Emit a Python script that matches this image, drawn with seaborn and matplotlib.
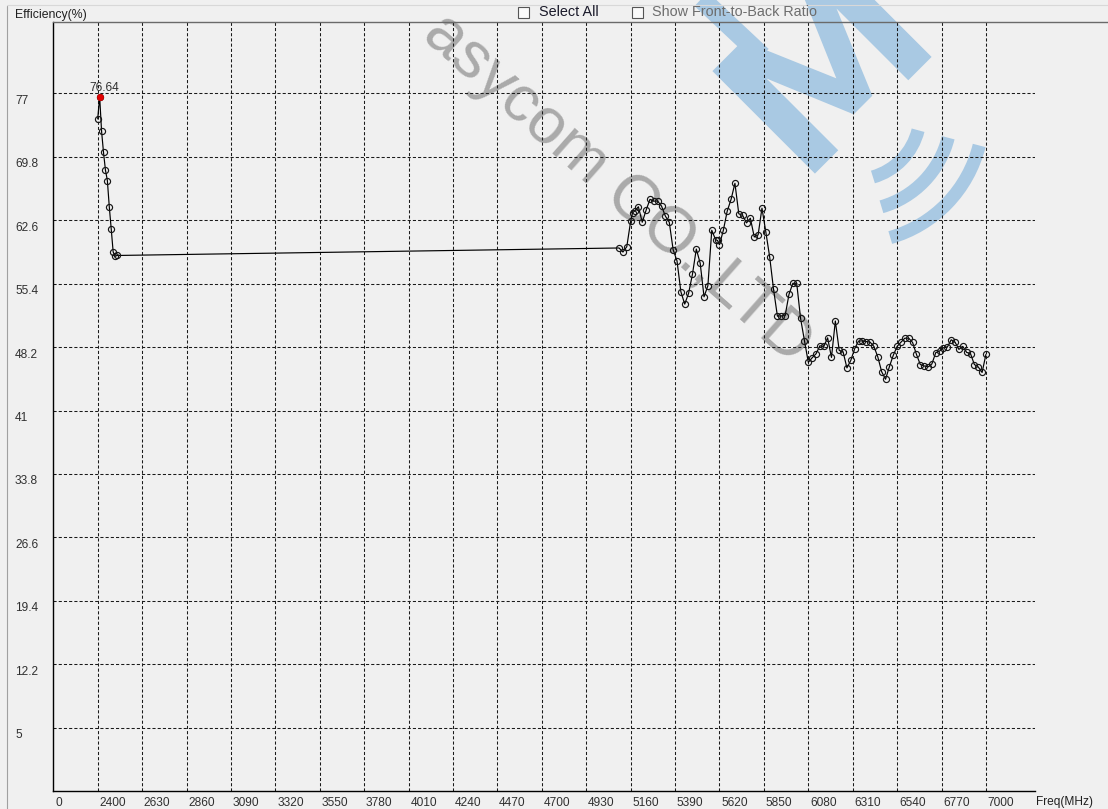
import matplotlib.pyplot as plt
import matplotlib.patches as mpatches
import matplotlib.transforms as mtrans
from matplotlib.lines import Line2D
import numpy as np
import pandas as pd
import seaborn as sns

W, H = 1108, 809

# 2.4 GHz band
freq_24 = [2400, 2410, 2420, 2430, 2440, 2450, 2460, 2470, 2480, 2490, 2500]
eff_24 = [74.1, 76.64, 72.7, 70.3, 68.3, 67.1, 64.1, 61.6, 59.0, 58.5, 58.6]

# 5 GHz band and above
freq_5g = [5100, 5120, 5140, 5160, 5170, 5180, 5200, 5220, 5240, 5260,
           5280, 5300, 5320, 5340, 5360, 5380, 5400, 5420, 5440, 5460,
           5480, 5500, 5520, 5540, 5560, 5580, 5600, 5610, 5620, 5640,
           5660, 5680, 5700, 5720, 5740, 5760, 5780, 5800, 5820, 5840,
           5860, 5880, 5900, 5920, 5940, 5960, 5980, 6000, 6020, 6040,
           6060, 6080, 6100, 6120, 6140, 6160, 6180, 6200, 6220, 6240,
           6260, 6280, 6300, 6320, 6340, 6360, 6380, 6400, 6420, 6440,
           6460, 6480, 6500, 6520, 6540, 6560, 6580, 6600, 6620, 6640,
           6660, 6680, 6700, 6720, 6740, 6760, 6780, 6800, 6820, 6840,
           6860, 6880, 6900, 6920, 6940, 6960, 6980, 7000]
eff_5g = [59.45, 58.99, 59.6, 62.49, 63.45, 63.63, 64.13, 62.37, 63.74, 64.97,
          64.77, 64.77, 64.2, 63.06, 62.37, 59.25, 57.99, 54.49, 53.08, 54.3,
          56.47, 59.33, 57.73, 53.91, 55.17, 61.46, 60.39, 60.3, 59.82, 61.46,
          63.63, 64.97, 66.79, 63.33, 63.14, 62.3, 62.83, 60.7, 60.93, 63.97,
          61.27, 58.42, 54.76, 51.71, 51.74, 51.78, 54.19, 55.44, 55.44, 51.45,
          48.94, 46.47, 46.99, 47.44, 48.35, 48.27, 49.25, 47.03, 51.16, 47.82,
          47.67, 45.84, 46.69, 48.01, 48.88, 48.91, 48.83, 48.76, 48.27, 47.08,
          45.4, 44.55, 45.98, 47.27, 48.28, 48.76, 49.21, 49.21, 48.73, 47.38,
          46.22, 46.06, 45.95, 46.29, 47.57, 47.75, 48.13, 48.2, 49.03, 48.76,
          47.94, 48.28, 47.6, 47.46, 46.22, 45.95, 45.32, 47.38]

x_ticks = [2170] + list(range(2400, 7001, 230))
x_labels = ["0"] + [str(v) for v in range(2400, 7001, 230)]
y_ticks = [5, 12.2, 19.4, 26.6, 33.8, 41, 48.2, 55.4, 62.6, 69.8, 77]
y_labels = ["5", "12.2", "19.4", "26.6", "33.8", "41", "48.2", "55.4", "62.6", "69.8", "77"]

df = pd.DataFrame({"freq": freq_24 + freq_5g, "eff": eff_24 + eff_5g})
peak = df.loc[df["eff"].idxmax()]

sns.set_style("white")
plt.rcParams["font.family"] = ["Liberation Sans", "DejaVu Sans"]
BG = "#f0f0f0"
BLUE = "#a9c9e3"


def fx(x):
    return x / W


def fy(y):
    return 1 - y / H


fig = plt.figure(figsize=(W / 100, H / 100), dpi=100, facecolor=BG)
ax = fig.add_axes([fx(53.3), fy(790.7), fx(1035) - fx(53.3), fy(22) - fy(790.7)])
ax.patch.set_alpha(0)  # let the watermark show through, grid and data stay on top
ident = mtrans.IdentityTransform()

# watermark text
fig.text(fx(617), fy(189), "asycom CO.,LTD", rotation=-41.5, rotation_mode="anchor",
         ha="center", va="center", fontsize=47, color="#aaaaaa", zorder=-1)

# blue logo drawn as shapes
m_outline = np.array([(0, 0), (0, 1), (0.26, 1), (0.5, 0.36), (0.74, 1), (1, 1), (1, 0),
                      (0.8, 0), (0.8, 0.7), (0.58, 0.1), (0.42, 0.1), (0.2, 0.7), (0.2, 0)])
m_outline = (m_outline - 0.5) * [165, 145]
ang = np.deg2rad(45)
rot = np.array([[np.cos(ang), -np.sin(ang)], [np.sin(ang), np.cos(ang)]])
m_pts = m_outline @ rot.T + [822, H - 64]
fig.add_artist(mpatches.Polygon(m_pts, closed=True, transform=ident, facecolor=BLUE,
                                edgecolor="none", zorder=-1))
fig.add_artist(Line2D([698, 762], [H + 4, H - 56], transform=ident, color=BLUE, lw=14,
                      solid_capstyle="butt", zorder=-1))
for r in [65, 96, 128]:
    fig.add_artist(mpatches.Arc((855, H - 114.5), 2 * r, 2 * r, theta1=-74, theta2=-14,
                                transform=ident, color=BLUE, lw=9.5, capstyle="butt", zorder=-1))

ax.set_xlim(2170, 7254)
ax.set_ylim(-2.15, 85.1)
ax.set_xticks(x_ticks)
ax.set_xticklabels(x_labels)
ax.set_yticks(y_ticks)
ax.set_yticklabels(y_labels)
ax.tick_params(length=0, labelsize=8.6, labelcolor="#303030")
ax.tick_params(axis="x", pad=4.5)
ax.tick_params(axis="y", pad=0)

for lab in ax.get_xticklabels():
    lab.set_horizontalalignment("left")
    lab.set_transform(lab.get_transform() + mtrans.ScaledTranslation(1.8 / 100, 0, fig.dpi_scale_trans))
for lab in ax.get_yticklabels():
    lab.set_horizontalalignment("left")
    lab.set_transform(lab.get_transform() + mtrans.ScaledTranslation(-38.3 / 100, -6 / 100, fig.dpi_scale_trans))

# dashed grid at the labelled ticks only
for v in x_ticks[1:]:
    ax.axvline(v, color="#1a1a1a", lw=0.75, ls=(0, (3, 2)), zorder=2)
for v in y_ticks:
    ax.axhline(v, color="#1a1a1a", lw=0.75, ls=(0, (3, 2)), zorder=2)

for side in ["right", "top"]:
    ax.spines[side].set_visible(False)
for side in ["left", "bottom"]:
    ax.spines[side].set_color("#000000")
    ax.spines[side].set_linewidth(1.0)

sns.lineplot(data=df, x="freq", y="eff", ax=ax, color="black", lw=0.85,
             marker="o", markersize=4.4, markerfacecolor="none",
             markeredgecolor="#151515", markeredgewidth=0.85, estimator=None,
             zorder=4)
sns.scatterplot(x=[peak["freq"]], y=[peak["eff"]], ax=ax, color="#e00000", s=22,
                edgecolor="#e00000", zorder=5)
ax.annotate(f"{peak['eff']:.2f}", (peak["freq"], peak["eff"]), xytext=(3.6, 6.3),
            textcoords="offset points", ha="center", va="center", fontsize=8.6,
            color="#303030", zorder=6)
ax.set_xlabel("")
ax.set_ylabel("")

# axis captions
fig.text(fx(15), fy(15), "Efficiency(%)", ha="left", va="center", fontsize=8.8, color="#202020")
fig.text(fx(1036), fy(801.5), "Freq(MHz)", ha="left", va="center", fontsize=8.6, color="#202020")

# window chrome: top separator, outer border, checkboxes
fig.add_artist(Line2D([fx(53.3), 1], [fy(22), fy(22)], color="#6a6a6a", lw=1.0))
fig.add_artist(Line2D([fx(6.7), fx(6.7)], [fy(6), 0], color="#a0a0a0", lw=0.8))
fig.add_artist(Line2D([fx(6.7), 1], [fy(5), fy(5)], color="#d8d8d8", lw=0.8))
for bx in [518.4, 631.5]:
    fig.add_artist(mpatches.Rectangle((fx(bx), fy(17.5)), 11 / W, 11 / H,
                                      transform=fig.transFigure, facecolor="#fafafa",
                                      edgecolor="#555555", lw=0.8))
fig.text(fx(539.4), fy(12.5), "Select All", ha="left", va="center", fontsize=10.4, color="#1a1a2a")
fig.text(fx(652), fy(12.5), "Show Front-to-Back Ratio", ha="left", va="center",
         fontsize=10.4, color="#6d6d6d")

fig.savefig("out.png", dpi=100, facecolor=BG)
